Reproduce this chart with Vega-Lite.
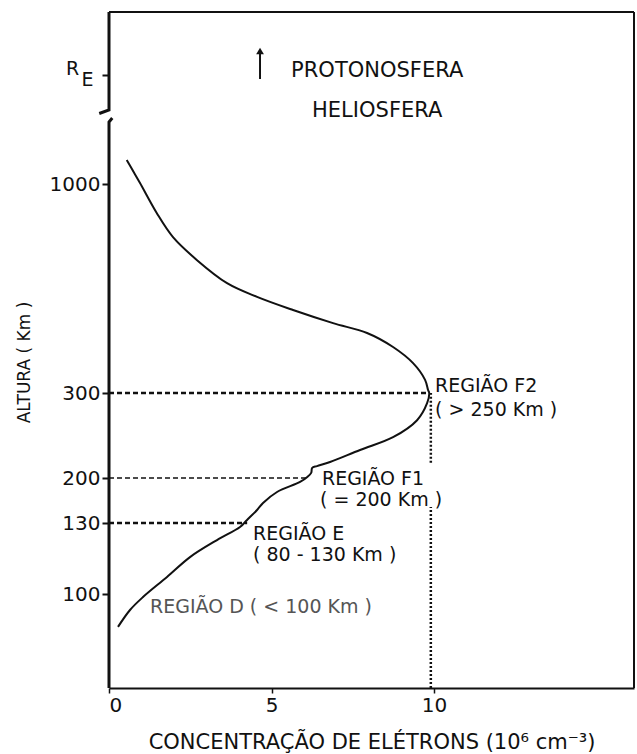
{
  "$schema": "https://vega.github.io/schema/vega-lite/v6.json",
  "width": 525,
  "height": 676,
  "autosize": "none",
  "padding": {"left": 109, "top": 12, "right": 3, "bottom": 66},
  "background": "white",
  "config": {
    "view": {"stroke": null},
    "font": "DejaVu Sans",
    "text": {"font": "DejaVu Sans", "color": "#111"}
  },
  "datasets": {
    "curve": [
      {"idx": 1, "x": 0.545, "alt": 2189},
      {"idx": 2, "x": 0.75, "alt": 1619},
      {"idx": 3, "x": 0.954, "alt": 1050},
      {"idx": 4, "x": 1.468, "alt": 903},
      {"idx": 5, "x": 1.969, "alt": 822},
      {"idx": 6, "x": 2.708, "alt": 745},
      {"idx": 7, "x": 3.631, "alt": 668},
      {"idx": 8, "x": 4.554, "alt": 622},
      {"idx": 9, "x": 5.662, "alt": 578},
      {"idx": 10, "x": 6.892, "alt": 534},
      {"idx": 11, "x": 7.938, "alt": 501},
      {"idx": 12, "x": 8.738, "alt": 454},
      {"idx": 13, "x": 9.354, "alt": 400},
      {"idx": 14, "x": 9.723, "alt": 344},
      {"idx": 15, "x": 9.815, "alt": 310},
      {"idx": 16, "x": 9.85, "alt": 300},
      {"idx": 17, "x": 9.785, "alt": 288},
      {"idx": 18, "x": 9.477, "alt": 268},
      {"idx": 19, "x": 8.738, "alt": 248},
      {"idx": 20, "x": 7.723, "alt": 233},
      {"idx": 21, "x": 6.8, "alt": 218.8},
      {"idx": 22, "x": 6.4, "alt": 214},
      {"idx": 23, "x": 6.25, "alt": 212},
      {"idx": 24, "x": 6.22, "alt": 206},
      {"idx": 25, "x": 6.1, "alt": 201.2},
      {"idx": 26, "x": 5.877, "alt": 193.8},
      {"idx": 27, "x": 5.169, "alt": 178.2},
      {"idx": 28, "x": 4.738, "alt": 161.1},
      {"idx": 29, "x": 4.554, "alt": 150.2},
      {"idx": 30, "x": 4.246, "alt": 134.7},
      {"idx": 31, "x": 4.031, "alt": 128.3},
      {"idx": 32, "x": 3.323, "alt": 122.8},
      {"idx": 33, "x": 2.492, "alt": 115.6},
      {"idx": 34, "x": 1.785, "alt": 107.2},
      {"idx": 35, "x": 1.046, "alt": 98.7},
      {"idx": 36, "x": 0.646, "alt": 93.2},
      {"idx": 37, "x": 0.277, "alt": 86}
    ],
    "axisline": [
      {"seg": "upper", "idx": 1, "x": 0, "alt": 10000},
      {"seg": "upper", "idx": 2, "x": 0, "alt": 4666},
      {"seg": "upper", "idx": 3, "x": -0.3, "alt": 4493},
      {"seg": "lower", "idx": 1, "x": 0.1, "alt": 4270},
      {"seg": "lower", "idx": 2, "x": 0, "alt": 4071},
      {"seg": "lower", "idx": 3, "x": 0, "alt": 60}
    ],
    "hrefs": [
      {"x": 0, "x2": 9.85, "alt": 300, "kind": "thick"},
      {"x": 0, "x2": 6.1, "alt": 200, "kind": "thin"},
      {"x": 0, "x2": 4.25, "alt": 130, "kind": "thick"}
    ],
    "vrefs": [
      {"x": 9.9, "alt": 60, "alt2": 155},
      {"x": 9.9, "alt": 218, "alt2": 300}
    ],
    "regions": [
      {"x": 10.03, "alt": 323, "label": "REGIÃO F2"},
      {"x": 10.03, "alt": 280, "label": "( > 250 Km )"},
      {"x": 6.55, "alt": 197.9, "label": "REGIÃO F1"},
      {"x": 6.49, "alt": 165.3, "label": "( = 200 Km )"},
      {"x": 4.43, "alt": 125.2, "label": "REGIÃO E"},
      {"x": 4.43, "alt": 116.6, "label": "( 80 - 130 Km )"}
    ],
    "regionD": [
      {"x": 1.26, "alt": 94.5, "label": "REGIÃO D ( < 100 Km )"}
    ],
    "spheres": [
      {"x": 8.25, "alt": 6657, "label": "PROTONOSFERA"},
      {"x": 8.25, "alt": 4641, "label": "HELIOSFERA"}
    ],
    "re": [
      {"x": -1.12, "alt": 6743, "label": "R"},
      {"x": -0.66, "alt": 6152, "label": "E"}
    ],
    "arrow": [
      {"x": 4.646, "alt": 6202, "alt2": 7714}
    ],
    "arrowhead": [
      {"x": 4.646, "alt": 7771}
    ],
    "frame": [
      {"x": 0, "x2": 16.15, "alt": 10000, "alt2": 10000},
      {"x": 16.15, "x2": 16.15, "alt": 60, "alt2": 10000}
    ]
  },
  "encoding": {
    "x": {
      "field": "x",
      "type": "quantitative",
      "scale": {"domain": [0, 16.15], "nice": false, "zero": false},
      "axis": {
        "values": [0, 5, 10],
        "grid": false,
        "domainColor": "#111",
        "domainWidth": 2,
        "tickColor": "#111",
        "tickWidth": 1.5,
        "tickSize": 5,
        "labelFontSize": 20,
        "labelColor": "#111",
        "labelPadding": 2,
        "labelFont": "DejaVu Sans",
        "title": "CONCENTRAÇÃO DE ELÉTRONS (10⁶ cm⁻³)",
        "titleFont": "DejaVu Sans",
        "titleFontSize": 21,
        "titleFontWeight": "normal",
        "titleColor": "#111",
        "titlePadding": 16
      }
    },
    "y": {
      "field": "alt",
      "type": "quantitative",
      "scale": {
        "domain": [60, 100, 130, 200, 300, 1000, 6400, 10000],
        "range": [676, 582, 511, 466, 381, 172, 63, 0],
        "nice": false,
        "zero": false,
        "clamp": false
      },
      "axis": {
        "values": [100, 130, 200, 300, 1000, 6400],
        "format": "d",
        "labelExpr": "datum.value == 6400 ? '' : datum.label",
        "grid": false,
        "domain": false,
        "tickColor": "#111",
        "tickWidth": 2,
        "tickSize": 7,
        "labelFontSize": 20,
        "labelColor": "#111",
        "labelPadding": 2,
        "labelFont": "DejaVu Sans",
        "title": "ALTURA ( Km )",
        "titleFont": "DejaVu Sans",
        "titleFontSize": 17,
        "titleFontWeight": "normal",
        "titleColor": "#111",
        "titleX": -76,
        "titleY": 350,
        "titleAngle": -90,
        "titleAlign": "center",
        "titleBaseline": "bottom"
      }
    }
  },
  "layer": [
    {
      "data": {"name": "frame"},
      "mark": {"type": "rule", "color": "#111", "strokeWidth": 2},
      "encoding": {"x2": {"field": "x2"}, "y2": {"field": "alt2"}}
    },
    {
      "data": {"name": "axisline"},
      "mark": {"type": "line", "color": "#111", "strokeWidth": 3, "clip": false},
      "encoding": {"detail": {"field": "seg"}, "order": {"field": "idx"}}
    },
    {
      "data": {"name": "hrefs"},
      "transform": [{"filter": "datum.kind == 'thick'"}],
      "mark": {"type": "rule", "color": "#111", "strokeWidth": 2.5, "strokeDash": [5, 3]},
      "encoding": {"x2": {"field": "x2"}}
    },
    {
      "data": {"name": "hrefs"},
      "transform": [{"filter": "datum.kind == 'thin'"}],
      "mark": {"type": "rule", "color": "#111", "strokeWidth": 1.5, "strokeDash": [5, 3]},
      "encoding": {"x2": {"field": "x2"}}
    },
    {
      "data": {"name": "vrefs"},
      "mark": {"type": "rule", "color": "#111", "strokeWidth": 2.5, "strokeDash": [2, 2]},
      "encoding": {"y2": {"field": "alt2"}}
    },
    {
      "data": {"name": "curve"},
      "mark": {"type": "line", "color": "#111", "strokeWidth": 2, "interpolate": "catmull-rom"},
      "encoding": {"order": {"field": "idx"}}
    },
    {
      "data": {"name": "regions"},
      "mark": {"type": "text", "align": "left", "baseline": "middle", "fontSize": 19, "color": "#111"},
      "encoding": {"text": {"field": "label"}}
    },
    {
      "data": {"name": "regionD"},
      "mark": {"type": "text", "align": "left", "baseline": "middle", "fontSize": 19, "color": "#555"},
      "encoding": {"text": {"field": "label"}}
    },
    {
      "data": {"name": "spheres"},
      "mark": {"type": "text", "align": "center", "baseline": "middle", "fontSize": 21, "color": "#111"},
      "encoding": {"text": {"field": "label"}}
    },
    {
      "data": {"name": "re"},
      "mark": {"type": "text", "align": "center", "baseline": "middle", "fontSize": 19, "color": "#111", "clip": false},
      "encoding": {"text": {"field": "label"}}
    },
    {
      "data": {"name": "arrow"},
      "mark": {"type": "rule", "color": "#111", "strokeWidth": 2},
      "encoding": {"y2": {"field": "alt2"}}
    },
    {
      "data": {"name": "arrowhead"},
      "mark": {"type": "point", "shape": "triangle-up", "filled": true, "color": "#111", "size": 60, "opacity": 1}
    }
  ]
}
